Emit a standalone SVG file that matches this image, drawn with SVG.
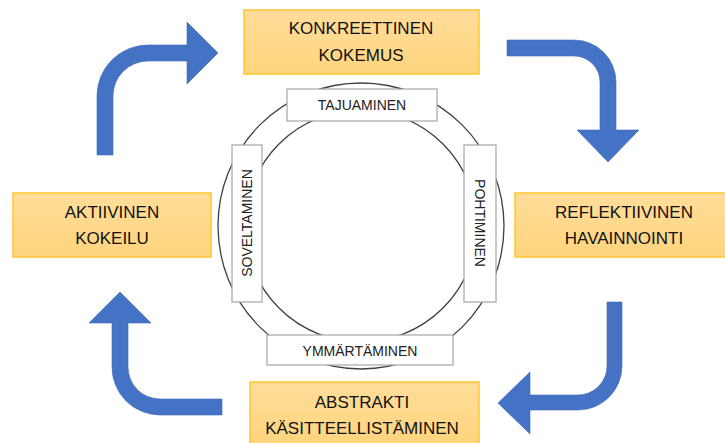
<svg xmlns="http://www.w3.org/2000/svg" width="725" height="443" viewBox="0 0 725 443">
<defs>
<linearGradient id="yel" x1="0" y1="0" x2="0" y2="1">
<stop offset="0" stop-color="#FFDD9A"/>
<stop offset="1" stop-color="#FFD47C"/>
</linearGradient>
</defs>
<style>
.main rect{fill:url(#yel);stroke:#FFC62E;stroke-width:1.5}
.main text{font-family:"Liberation Sans",Arial,sans-serif;font-size:17px;fill:#111;text-anchor:middle}
.small rect{fill:#fff;stroke:#A6A6A6;stroke-width:1.2}
.small text{font-family:"Liberation Sans",Arial,sans-serif;font-size:14px;fill:#222;text-anchor:middle}
.ring{fill:none;stroke:#404040;stroke-width:1.3}
.arrow{fill:#4472C4;stroke:#3F6AB8;stroke-width:0.6}
</style>
<rect width="725" height="443" fill="#fff"/>

<g id="ring">
<circle class="ring" cx="361" cy="226" r="143"/>
<circle class="ring" cx="361" cy="226" r="116"/>
</g>

<g id="connectors">
<path class="arrow" d="M97,155 L97,96 A51,51 0 0 1 148,45 L187,45 L187,22 L218,53 L187,84 L187,61 L148,61 A35,35 0 0 0 113,96 L113,155 Z"/>
<path class="arrow" d="M507,40 L574,40 A42,42 0 0 1 616,82 L616,130 L639,130 L608,162 L577,130 L600,130 L600,82 A26,26 0 0 0 574,56 L507,56 Z"/>
<path class="arrow" d="M607,302 L622,302 L622,366 A44,44 0 0 1 578,410 L530,410 L530,434 L498,403 L530,372 L530,395 L578,395 A29,29 0 0 0 607,366 Z"/>
<path class="arrow" d="M222,399 L160,399 A32,32 0 0 1 128,367 L128,323 L151,323 L120,292 L89,323 L112,323 L112,367 A48,48 0 0 0 160,415 L222,415 Z"/>
</g>

<g id="tajuaminen" class="small">
<rect x="287" y="89" width="150" height="32"/>
<text x="362" y="110">TAJUAMINEN</text>
</g>
<g id="pohtiminen" class="small">
<rect x="464" y="145" width="32" height="157"/>
<text transform="translate(480,223) rotate(90)" y="5">POHTIMINEN</text>
</g>
<g id="ymmartaminen" class="small">
<rect x="267" y="335" width="186" height="30"/>
<text x="360" y="356">YMMÄRTÄMINEN</text>
</g>
<g id="soveltaminen" class="small">
<rect x="232" y="145" width="30" height="157"/>
<text transform="translate(247,223) rotate(-90)" y="5">SOVELTAMINEN</text>
</g>

<g id="konkreettinen" class="main">
<rect x="244" y="10" width="235" height="64"/>
<text x="361" y="34">KONKREETTINEN</text>
<text x="361" y="61">KOKEMUS</text>
</g>
<g id="reflektiivinen" class="main">
<rect x="515" y="193" width="212" height="64"/>
<text x="624" y="218">REFLEKTIIVINEN</text>
<text x="624" y="244">HAVAINNOINTI</text>
</g>
<g id="abstrakti" class="main">
<rect x="250" y="382" width="229" height="64"/>
<text x="362" y="408">ABSTRAKTI</text>
<text x="362" y="434">KÄSITTEELLISTÄMINEN</text>
</g>
<g id="aktiivinen" class="main">
<rect x="13" y="193" width="198" height="64"/>
<text x="112" y="218">AKTIIVINEN</text>
<text x="112" y="244">KOKEILU</text>
</g>
</svg>
